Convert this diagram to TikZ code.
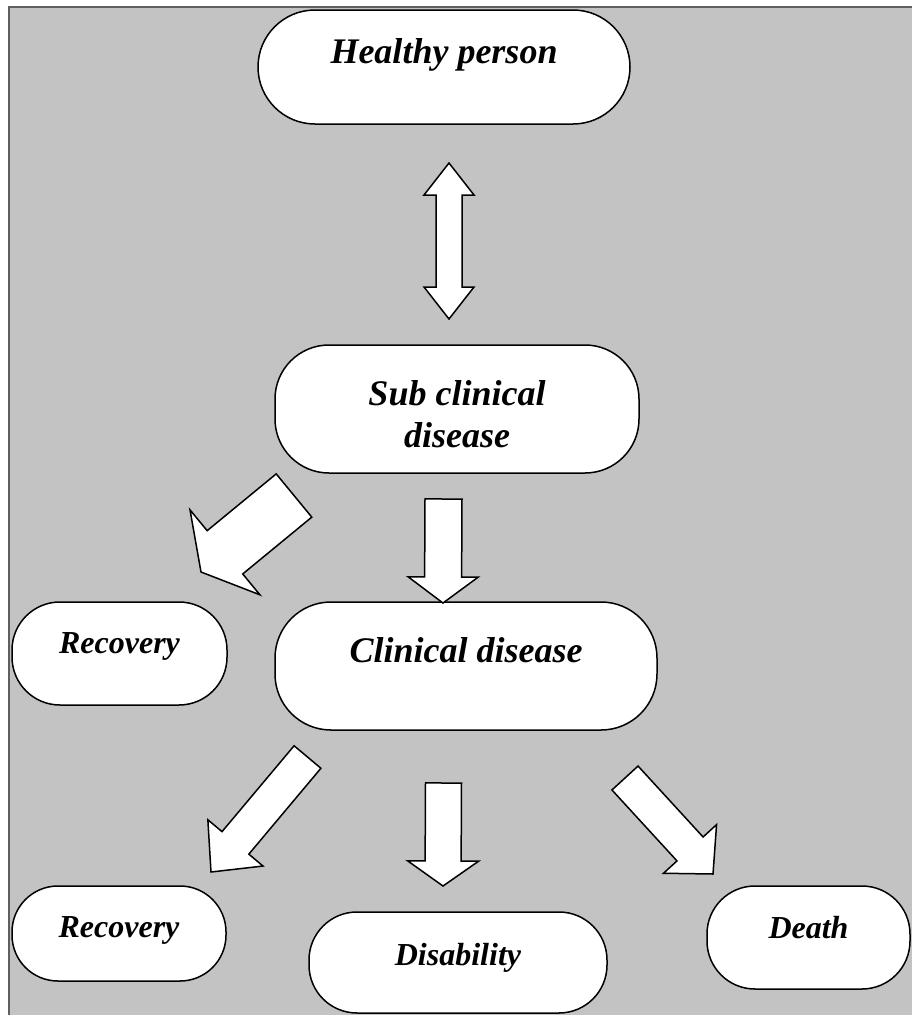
\documentclass[tikz,border=0pt]{standalone}
\usepackage{fontspec}
\setmainfont{Liberation Serif}
\usetikzlibrary{calc}
\definecolor{panelGray}{RGB}{195,195,195}
\definecolor{frameGray}{RGB}{95,95,95}
\tikzstyle{stage} = [draw,rectangle,fill=white,line width=1.5pt,inner xsep=0pt,inner ysep=0pt]
\tikzstyle{bigText} = [font=\bfseries\itshape\fontsize{36}{42}\selectfont]
\tikzstyle{smallText} = [font=\bfseries\itshape\fontsize{32}{38}\selectfont]
\tikzstyle{fatArrow} = [draw,fill=white,line width=1.5pt,line join=miter]
% tail, tip, shaft half width, head half width, head length
\newcommand{\fatarrow}[5]{%
	\coordinate (hb) at ($(#2)!#5!(#1)$);
	\path[fatArrow] ($(#1)!#3!90:(#2)$) -- ($(hb)!#3!90:(#2)$) -- ($(hb)!#4!90:(#2)$) -- (#2)
		-- ($(hb)!#4!-90:(#2)$) -- ($(hb)!#3!-90:(#2)$) -- ($(#1)!#3!-90:(#2)$) -- cycle;
}
% tip one, tip two, shaft half width, head half width, head length
\newcommand{\twowayarrow}[5]{%
	\coordinate (hb1) at ($(#1)!#5!(#2)$);
	\coordinate (hb2) at ($(#2)!#5!(#1)$);
	\path[fatArrow] (#1) -- ($(hb1)!#4!90:(#2)$) -- ($(hb1)!#3!90:(#2)$) -- ($(hb2)!#3!90:(#2)$)
		-- ($(hb2)!#4!90:(#2)$) -- (#2) -- ($(hb2)!#4!-90:(#2)$) -- ($(hb2)!#3!-90:(#2)$)
		-- ($(hb1)!#3!-90:(#2)$) -- ($(hb1)!#4!-90:(#2)$) -- cycle;
}
\begin{document}
\begin{tikzpicture}[x=1pt,y=-1pt]
		\clip(0,0) rectangle (912,1015);
		\draw[frameGray,line width=2pt,fill=panelGray](9,7) rectangle (940,1040);
		\node[stage,bigText,rounded corners=57pt,minimum width=372pt,text height=53pt,text depth=61pt](healthy) at (444,67){Healthy person};
		\node[stage,bigText,rounded corners=54pt,minimum width=364pt,text height=60pt,text depth=68pt](subclinical) at (457,409){\begin{tabular}[t]{@{}c@{}}Sub clinical\\disease\end{tabular}};
		\node[stage,bigText,rounded corners=56pt,minimum width=382pt,text height=60pt,text depth=68pt](clinical) at (466,666){Clinical disease};
		\node[stage,smallText,rounded corners=48pt,minimum width=215pt,text height=51pt,text depth=52pt](recoveryA) at (119.5,653.5){Recovery};
		\node[stage,smallText,rounded corners=46pt,minimum width=214pt,text height=51pt,text depth=44pt](recoveryB) at (119,933.5){Recovery};
		\node[stage,smallText,rounded corners=48pt,minimum width=298pt,text height=53pt,text depth=48pt](disability) at (458,962.5){Disability};
		\node[stage,smallText,rounded corners=48pt,minimum width=203pt,text height=52pt,text depth=51pt](death) at (808.5,937.5){Death};
		%arrows
		\coordinate(hsTop) at (449,163);
		\coordinate(hsBot) at (449,319);
		\twowayarrow{hsTop}{hsBot}{13pt}{25pt}{32pt}
		\coordinate(scTail) at (443.5,499);
		\coordinate(scTip) at (443,603);
		\fatarrow{scTail}{scTip}{18.5pt}{35pt}{26pt}
		\coordinate(srTail) at (294,495.5);
		\coordinate(srTip) at (201,572);
		\fatarrow{srTail}{srTip}{28pt}{55pt}{31pt}
		\coordinate(crTail) at (307.5,757);
		\coordinate(crTip) at (211,872);
		\fatarrow{crTail}{crTip}{17.5pt}{36pt}{38pt}
		\coordinate(cdTail) at (443.5,783);
		\coordinate(cdTip) at (443,886);
		\fatarrow{cdTail}{cdTip}{18pt}{35.5pt}{25pt}
		\coordinate(ceTail) at (625,778);
		\coordinate(ceTip) at (713,874);
		\fatarrow{ceTail}{ceTip}{17.7pt}{36pt}{34pt}
\end{tikzpicture}
\end{document}
